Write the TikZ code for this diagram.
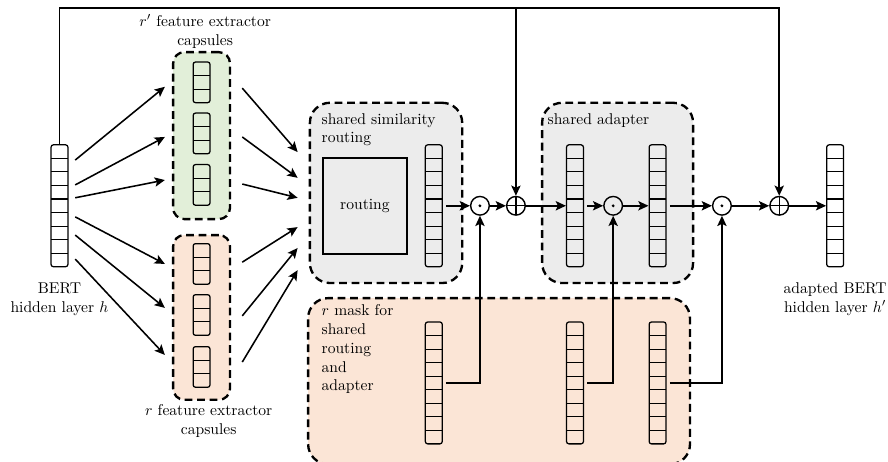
\documentclass[tikz,border=0pt]{standalone}
\usepackage{amsmath,amssymb}
\usepackage{xcolor}
\usepackage{tikz}
\usetikzlibrary{arrows.meta,positioning,fit,calc}
\definecolor{capgreen}{RGB}{226,239,217}
\definecolor{maskorange}{RGB}{251,229,214}
\definecolor{sharedgray}{RGB}{236,236,236}

\tikzset{
  vec/.style={draw, line width=0.8pt, rounded corners=1.5pt, inner sep=0pt,
    minimum width=0.38cm, minimum height=#1*0.305cm,
    path picture={\foreach \k in {1,...,#1}{
      \draw[line width=0.7pt] ([yshift=-\k*0.305cm]path picture bounding box.north west)
        -- ([yshift=-\k*0.305cm]path picture bounding box.north east);}}},
  dashbox/.style={draw, line width=1.5pt, dash pattern=on 5pt off 3pt,
    rounded corners=0.45cm, inner sep=0pt},
  odot/.style={circle, draw, line width=0.9pt, minimum size=0.42cm, inner sep=0pt,
    path picture={\fill (path picture bounding box.center) circle (1pt);}},
  oplus/.style={circle, draw, line width=0.9pt, minimum size=0.42cm, inner sep=0pt,
    path picture={\draw[line width=0.9pt]
      (path picture bounding box.north) -- (path picture bounding box.south)
      (path picture bounding box.west) -- (path picture bounding box.east);}},
  arr/.style={-{Stealth[length=2.3mm,width=2.1mm,inset=0.5mm]}, line width=1pt},
}

\begin{document}
\begin{tikzpicture}
  \clip (0,0) rectangle (20,10.405);

  % dashed groups
  \node[dashbox, fill=sharedgray, fit={(6.98,4.03) (10.41,8.09)}] (simbox) {};
  \node[dashbox, fill=sharedgray, fit={(12.21,4.03) (15.61,8.09)}] (adbox) {};
  \node[dashbox, fill=maskorange, fit={(6.94,-0.05) (15.54,3.69)}] (maskbox) {};
  \node[dashbox, fill=capgreen, rounded corners=0.25cm, fit={(3.90,5.47) (5.18,9.23)}] (gbox) {};
  \node[dashbox, fill=maskorange, rounded corners=0.25cm, fit={(3.90,1.40) (5.18,5.11)}] (obox) {};

  % input layer and capsules
  \node[vec=9] (h) at (1.34,5.77) {};
  \foreach \n/\y in {1/8.55,2/7.40,3/6.24}{
    \node[vec=3] (gc\n) at (4.54,\y) {};
  }
  \foreach \n/\y in {1/4.46,2/3.31,3/2.14}{
    \node[vec=3] (rc\n) at (4.54,\y) {};
  }

  % routing and adapter
  \node[draw, line width=1.3pt, minimum width=1.9cm, minimum height=2.16cm] (route) at (8.22,5.77) {routing};
  \node[vec=9] (scol) at (9.77,5.77) {};
  \node[odot] (dot1) at (10.81,5.77) {};
  \node[oplus] (add1) at (11.62,5.77) {};
  \node[vec=9] (acol1) at (12.95,5.77) {};
  \node[odot] (dot2) at (13.81,5.77) {};
  \node[vec=9] (acol2) at (14.81,5.77) {};
  \node[odot] (dot3) at (16.26,5.77) {};
  \node[oplus] (add2) at (17.55,5.77) {};
  \node[vec=9] (hout) at (18.81,5.77) {};

  % masks
  \node[vec=9] (mcol1) at (scol |- 0,1.78) {};
  \node[vec=9] (mcol2) at (acol1 |- 0,1.78) {};
  \node[vec=9] (mcol3) at (acol2 |- 0,1.78) {};

  % labels
  \node[align=center] at (4.62,9.70) {$r'$ feature extractor\\capsules};
  \node[align=center] at (4.70,0.92) {$r$ feature extractor\\capsules};
  \node[align=center, below=0.22cm of h] {BERT\\hidden layer $h$};
  \node[align=center, below=0.22cm of hout] {adapted BERT\\hidden layer $h'$};
  \node[anchor=north west, align=left] at (7.12,7.98) {shared similarity\\routing};
  \node[anchor=north west] at (12.21,7.98) {shared adapter};
  \node[anchor=north west, align=left] at (7.12,3.66) {$r$ mask for\\shared\\routing\\and\\adapter};

  % h -> capsules
  \foreach \s/\t/\d in {1.03/gc1/-0.10, 0.47/gc2/-0.08, 0.18/gc3/0.11,
                        -0.25/rc1/0, -0.66/rc2/0.16, -1.20/rc3/0.27}{
    \draw[arr] ($(h.east)+(0.15,\s)$) -- ($(gbox.west |- \t)+(-0.16,\d)$);
  }
  % capsules -> routing
  \foreach \t/\s/\e in {gc1/-0.13/0.92, gc2/-0.08/0.34, gc3/0.02/-0.11,
                        rc1/0.04/-0.77, rc2/-0.02/-1.24, rc3/0.11/-1.74}{
    \draw[arr] ($(gbox.east |- \t)+(0.25,\s)$) -- ($(simbox.west)+(-0.25,\e)$);
  }

  % main path
  \draw[arr, shorten <=2pt] (scol.east) -- (dot1.west);
  \draw[arr] (dot1.east) -- (add1.west);
  \draw[arr] (add1.east) -- (acol1.west);
  \draw[arr, shorten <=2pt] (acol1.east) -- (dot2.west);
  \draw[arr] (dot2.east) -- (acol2.west);
  \draw[arr, shorten <=2pt] (acol2.east) -- (dot3.west);
  \draw[arr] (dot3.east) -- (add2.west);
  \draw[arr] (add2.east) -- (hout.west);

  % residual
  \coordinate (top) at (0,10.225);
  \draw[arr] (h.north) -- (h.north |- top) -| (add2.north);
  \draw[arr] (add1.north |- top) -- (add1.north);

  % masks -> products
  \draw[arr, shorten <=2pt] (mcol1.east) -| (dot1.south);
  \draw[arr, shorten <=2pt] (mcol2.east) -| (dot2.south);
  \draw[arr, shorten <=2pt] (mcol3.east) -| (dot3.south);
\end{tikzpicture}
\end{document}
